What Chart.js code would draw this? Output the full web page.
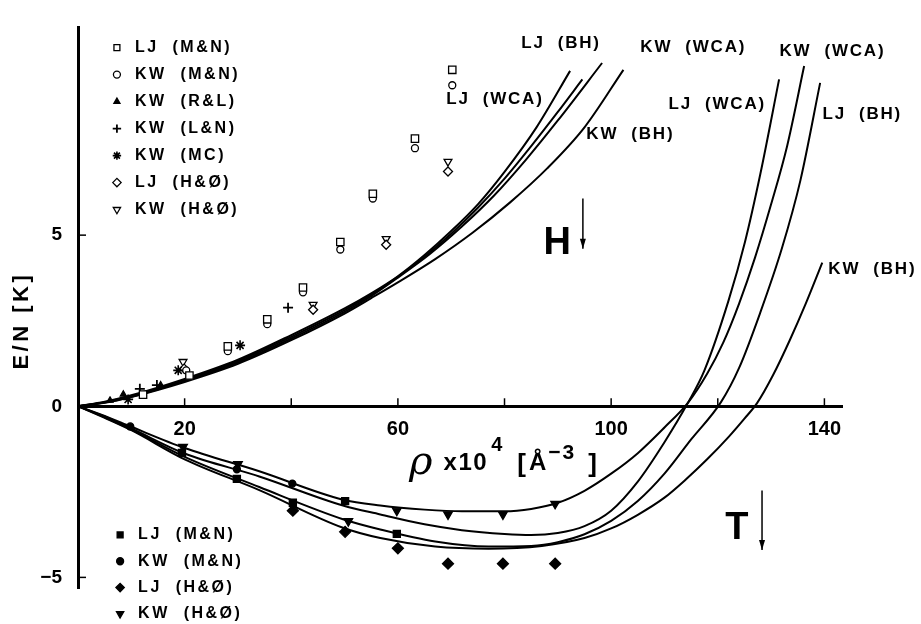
<!DOCTYPE html>
<html>
<head>
<meta charset="utf-8">
<script src="https://cdn.jsdelivr.net/npm/chart.js@4.4.0/dist/chart.umd.min.js"></script>
<style>
  html, body { margin: 0; padding: 0; background: #fff; }
  #wrap { width: 921px; height: 624px; }
</style>
</head>
<body>
<div id="wrap"><canvas id="chart" width="921" height="624"></canvas></div>
<script>
// x: density rho x 10^4 [A^-3], y: E/N [K]
const xTicks = [20, 40, 60, 80, 100, 120, 140];
const xTickLabels = [20, 60, 100, 140];
const yTicks = [-5, 0, 5];

// H branch, theory curves [rho, E/N]
const hLjBH = [[0,0],[5,0.13],[10,0.32],[20,0.8],[30,1.36],[40,2.08],[50,2.86],[55,3.3],[60,3.8],[65,4.42],[70,5.12],[75,5.9],[80,6.85],[86,8.15],[92.3,9.8]];
const hLjWCA = [[0,0],[5,0.12],[10,0.3],[20,0.77],[30,1.32],[40,2.03],[50,2.81],[55,3.26],[60,3.78],[65,4.37],[70,5.04],[75,5.8],[80,6.65],[85,7.6],[90,8.6],[94.6,9.55]];
const hKwWCA = [[0,0],[5,0.11],[10,0.28],[20,0.74],[30,1.28],[40,1.98],[50,2.76],[55,3.22],[60,3.76],[66,4.45],[72,5.25],[78,6.15],[84,7.2],[90,8.35],[98.3,10.03]];
const hKwBH = [[0,0],[5,0.1],[10,0.27],[20,0.71],[30,1.24],[40,1.93],[50,2.71],[55,3.16],[60,3.62],[67,4.3],[74,5.07],[81,5.95],[88,6.95],[95,8.15],[102.3,9.83]];

// T branch, theory curves [rho, E/N]
const tKwWCA = [[0,0],[5,-0.28],[10,-0.6],[20,-1.22],[34,-1.9],[49.7,-2.73],[56.7,-2.9],[65,-3.02],[72,-3.07],[80,-3.07],[85,-3.0],[90,-2.82],[95,-2.47],[100,-1.97],[105,-1.37],[110,-0.62],[114.4,0.1],[118,0.95],[121,1.85],[124,3.0],[127,4.35],[130,5.9],[133,7.6],[136.2,9.94]];
const tLjWCA = [[0,0],[5,-0.3],[10,-0.65],[20,-1.38],[34,-2.05],[49.7,-2.9],[56.7,-3.16],[65,-3.45],[72,-3.62],[80,-3.73],[85,-3.76],[90,-3.7],[95,-3.5],[100,-3.05],[105,-2.2],[110,-1.05],[114.4,0.1],[117.5,1.05],[122,3.08],[125.1,4.8],[128,6.8],[131.5,9.55]];
const tLjBH = [[0,0],[5,-0.32],[10,-0.68],[20,-1.48],[34,-2.36],[49.7,-3.3],[56.7,-3.6],[67,-3.95],[77,-4.1],[85,-4.08],[90,-3.97],[95,-3.74],[100,-3.35],[105,-2.77],[110,-1.97],[115,-0.97],[120.6,0.12],[124,1.12],[128,2.75],[132,4.6],[135.5,6.6],[139.2,9.45]];
const tKwBH = [[0,0],[5,-0.34],[10,-0.7],[20,-1.55],[34,-2.45],[49.7,-3.55],[56.7,-3.85],[67,-4.1],[77,-4.16],[87,-4.08],[95,-3.85],[100,-3.57],[105,-3.17],[110,-2.67],[114,-2.14],[118,-1.55],[122,-0.9],[125,-0.36],[127.4,0.1],[130.4,0.92],[133.5,1.93],[136.5,3.0],[139.6,4.2]];

// H branch, simulation points
const ljMNx = [12.2, 20.9, 28.1, 35.5, 42.2, 49.2, 55.3, 63.2, 70.2];
const ljMNy = [0.34, 0.9, 1.75, 2.54, 3.47, 4.8, 6.21, 7.82, 9.83];
const kwMNx = [20.3, 28.1, 35.5, 42.2, 49.2, 55.3, 63.2, 70.2];
const kwMNy = [1.05, 1.61, 2.4, 3.33, 4.58, 6.07, 7.54, 9.38];
const kwRLx = [6, 8.5, 15.5];
const kwRLy = [0.17, 0.35, 0.62];
const kwLNx = [11.6, 14.8, 39.4];
const kwLNy = [0.51, 0.62, 2.88];
const kwMCx = [9.4, 18.8, 30.4];
const kwMCy = [0.2, 1.05, 1.78];
const ljHOx = [19.9, 44.1, 57.8, 69.4];
const ljHOy = [1.1, 2.82, 4.72, 6.86];
const kwHOx = [19.7, 44.1, 57.8, 69.4];
const kwHOy = [1.3, 2.97, 4.89, 7.15];

// T branch, simulation points
const tLjMNx = [19.5, 29.8, 40.3, 50.1, 59.8];
const tLjMNy = [-1.36, -2.12, -2.82, -2.77, -3.73];
const tKwMNx = [9.8, 29.8, 40.2];
const tKwMNy = [-0.59, -1.84, -2.26];
const tLjHOx = [40.3, 50.1, 60, 69.4, 79.7, 89.5];
const tLjHOy = [-3.05, -3.67, -4.15, -4.6, -4.6, -4.6];
const tKwHOx = [19.7, 30, 50.7, 59.8, 69.4, 79.7, 89.5];
const tKwHOy = [-1.19, -1.69, -3.36, -3.05, -3.16, -3.16, -2.85];

// curve labels [text, rho, E/N]
const curveLabels = [
  ['LJ (BH)', 90.6, 10.6], ['KW (WCA)', 115.4, 10.5], ['LJ (WCA)', 78.2, 8.98], ['KW (BH)', 103.6, 7.95],
  ['KW (WCA)', 141.5, 10.37], ['LJ (WCA)', 119.9, 8.81], ['LJ (BH)', 147.1, 8.53], ['KW (BH)', 149, 4.01]
];

Chart.defaults.font.family = '"Liberation Sans", Arial, sans-serif';
Chart.defaults.color = '#000';

function curve(pts) {
  return {
    data: pts.map(([x, y]) => ({ x, y })),
    showLine: true, borderColor: '#000', borderWidth: 2, pointRadius: 0,
    cubicInterpolationMode: 'monotone', order: 2
  };
}
function marks(label, xs, ys, style, radius, filled, extra) {
  return Object.assign({
    label: label,
    data: xs.map((x, i) => ({ x, y: ys[i] })),
    showLine: false, pointStyle: style, pointRadius: radius,
    pointBackgroundColor: filled ? '#000' : '#fff', pointBorderColor: '#000',
    pointBorderWidth: 1.3, order: 1
  }, extra || {});
}

const hMarks = [
  marks('LJ (M&N)', ljMNx, ljMNy, 'rect', 5.2, false),
  marks('KW (M&N)', kwMNx, kwMNy, 'circle', 3.5, false),
  marks('KW (R&L)', kwRLx, kwRLy, 'triangle', 3.5, true),
  marks('KW (L&N)', kwLNx, kwLNy, 'cross', 5, false, { pointBorderWidth: 1.8 }),
  marks('KW (MC)', kwMCx, kwMCy, 'star', 5, false, { pointBorderWidth: 1.6 }),
  marks('LJ (H&Ø)', ljHOx, ljHOy, 'rectRot', 4.5, false),
  marks('KW (H&Ø)', kwHOx, kwHOy, 'triangle', 4.5, false, { pointRotation: 180 })
];
const tMarks = [
  marks('LJ (M&N)', tLjMNx, tLjMNy, 'rect', 5, true),
  marks('KW (M&N)', tKwMNx, tKwMNy, 'circle', 3.5, true),
  marks('LJ (H&Ø)', tLjHOx, tLjHOy, 'rectRot', 5.5, true),
  marks('KW (H&Ø)', tKwHOx, tKwHOy, 'triangle', 5, true, { pointRotation: 180 })
];

function drawArrow(ctx, x, y1, y2) {
  ctx.beginPath();
  ctx.moveTo(x, y1); ctx.lineTo(x, y2);
  ctx.lineWidth = 1.5; ctx.stroke();
  ctx.beginPath();
  ctx.moveTo(x - 3, y2 - 10); ctx.lineTo(x, y2); ctx.lineTo(x + 3, y2 - 10);
  ctx.closePath(); ctx.fill();
}

function drawLegend(ctx, sx, sy, list, step, gap) {
  list.forEach((ds, i) => {
    const y = sy + i * step;
    ctx.fillStyle = ds.pointBackgroundColor;
    ctx.strokeStyle = '#000';
    ctx.lineWidth = ds.pointBorderWidth;
    Chart.helpers.drawPoint(ctx, {
      pointStyle: ds.pointStyle, radius: Math.min(ds.pointRadius, 4.2),
      rotation: ds.pointRotation || 0, borderWidth: ds.pointBorderWidth
    }, sx, y);
    ctx.fillStyle = '#000';
    ctx.fillText(ds.label.replace(' ', '  '), sx + gap, y);
  });
}

const decor = {
  id: 'decor',
  afterDraw(chart) {
    const { ctx, scales: { x, y }, chartArea } = chart;
    const y0 = y.getPixelForValue(0);
    ctx.save();
    ctx.strokeStyle = '#000';
    ctx.fillStyle = '#000';
    ctx.lineWidth = 1.5;
    // tick marks
    xTicks.forEach(v => {
      const px = x.getPixelForValue(v);
      ctx.beginPath(); ctx.moveTo(px, y0); ctx.lineTo(px, y0 - 8); ctx.stroke();
    });
    yTicks.forEach(v => {
      const py = y.getPixelForValue(v);
      ctx.beginPath(); ctx.moveTo(chartArea.left, py); ctx.lineTo(chartArea.left + 8, py); ctx.stroke();
    });

    // curve labels
    ctx.font = 'bold 17px "Liberation Sans", Arial, sans-serif';
    ctx.letterSpacing = '1.8px';
    ctx.textAlign = 'center';
    ctx.textBaseline = 'middle';
    curveLabels.forEach(([t, rx, ry]) => {
      ctx.fillText(t.replace(' ', '  '), x.getPixelForValue(rx), y.getPixelForValue(ry));
    });

    // legends
    ctx.textAlign = 'left';
    ctx.font = 'bold 16px "Liberation Sans", Arial, sans-serif';
    ctx.letterSpacing = '2.5px';
    drawLegend(ctx, x.getPixelForValue(7.3), y.getPixelForValue(10.48), hMarks, 27, 18);
    drawLegend(ctx, x.getPixelForValue(7.9), y.getPixelForValue(-3.76), tMarks, 26.3, 18);

    // H and T markers
    ctx.letterSpacing = '0px';
    ctx.textAlign = 'center';
    ctx.font = 'bold 38px "Liberation Sans", Arial, sans-serif';
    ctx.fillText('H', x.getPixelForValue(89.9), y.getPixelForValue(4.75));
    ctx.fillText('T', x.getPixelForValue(123.6), y.getPixelForValue(-3.58));
    drawArrow(ctx, x.getPixelForValue(94.7), y.getPixelForValue(6.07), y.getPixelForValue(4.6));
    drawArrow(ctx, x.getPixelForValue(128.3), y.getPixelForValue(-2.46), y.getPixelForValue(-4.2));

    // x axis title: rho x10^4 [A^-3]
    let px = x.getPixelForValue(62.1);
    const base = y.getPixelForValue(-1.85);
    ctx.textAlign = 'left';
    ctx.textBaseline = 'alphabetic';
    const parts = [
      ['ρ', 'italic 40px "DejaVu Serif", serif', 4, 11, '0px'],
      ['x10', 'bold 24px "Liberation Sans", Arial, sans-serif', 0, 3, '1.5px'],
      ['4', 'bold 20px "Liberation Sans", Arial, sans-serif', -19, 15, '0px'],
      ['[', 'bold 26px "Liberation Sans", Arial, sans-serif', 2, 3, '0px'],
      ['Å', 'bold 24px "Liberation Sans", Arial, sans-serif', 0, 2, '0px'],
      ['−3', 'bold 21px "Liberation Sans", Arial, sans-serif', -11, 12, '2px'],
      [']', 'bold 26px "Liberation Sans", Arial, sans-serif', 2, 0, '0px']
    ];
    parts.forEach(([t, f, dy, gapAfter, ls]) => {
      ctx.font = f;
      ctx.letterSpacing = ls;
      ctx.fillText(t, px, base + dy);
      px += ctx.measureText(t).width + gapAfter;
    });

    // y axis title
    ctx.save();
    ctx.translate(chartArea.left - 56, y.getPixelForValue(2.5));
    ctx.rotate(-Math.PI / 2);
    ctx.textAlign = 'center';
    ctx.textBaseline = 'middle';
    ctx.font = 'bold 22px "Liberation Sans", Arial, sans-serif';
    ctx.letterSpacing = '3.5px';
    ctx.fillText('E/N [K]', 0, 0);
    ctx.restore();
    ctx.restore();
  }
};

new Chart(document.getElementById('chart'), {
  type: 'scatter',
  data: {
    datasets: [
      ...hMarks, ...tMarks,
      curve(hLjBH), curve(hLjWCA), curve(hKwWCA), curve(hKwBH),
      curve(tKwWCA), curve(tLjWCA), curve(tLjBH), curve(tKwBH)
    ]
  },
  options: {
    responsive: false,
    animation: false,
    devicePixelRatio: 1,
    layout: { padding: { top: 8, right: 79, bottom: 36, left: 0 } },
    plugins: { legend: { display: false }, tooltip: { enabled: false } },
    scales: {
      x: {
        type: 'linear', min: 0, max: 143.3,
        position: { y: 0 },
        border: { display: true, width: 3, color: '#000' },
        grid: { display: false, drawTicks: false },
        afterBuildTicks: s => { s.ticks = xTicks.map(v => ({ value: v })); },
        ticks: {
          padding: 11,
          font: { size: 20, weight: 'bold' },
          callback: v => xTickLabels.includes(v) ? String(v) : ''
        }
      },
      y: {
        type: 'linear', min: -5.31, max: 11.07,
        position: 'left',
        border: { display: true, width: 3, color: '#000' },
        grid: { display: false, drawTicks: false },
        afterBuildTicks: s => { s.ticks = yTicks.map(v => ({ value: v })); },
        afterFit: s => { s.width = 78; },
        ticks: {
          padding: 16,
          font: { size: 19, weight: 'bold' },
          callback: v => v < 0 ? '−' + Math.abs(v) : String(v)
        }
      }
    }
  },
  plugins: [decor]
});
</script>
</body>
</html>
